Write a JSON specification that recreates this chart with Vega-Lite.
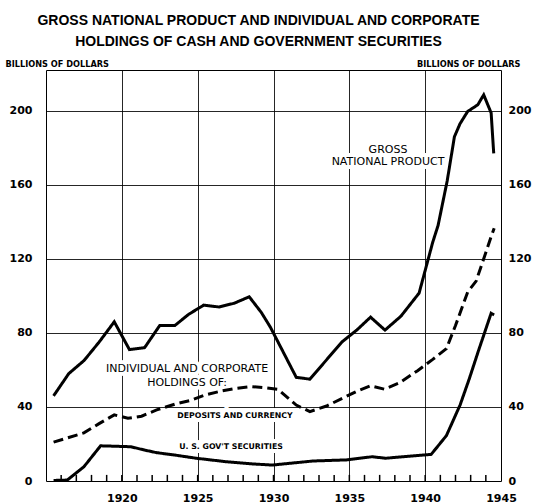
{
  "$schema": "https://vega.github.io/schema/vega-lite/v6.json",
  "width": 455,
  "height": 411,
  "autosize": {"type": "none"},
  "padding": {"left": 46, "top": 70, "right": 33, "bottom": 23},
  "background": "white",
  "title": {
    "text": ["GROSS NATIONAL PRODUCT AND INDIVIDUAL AND CORPORATE", "HOLDINGS OF CASH AND GOVERNMENT SECURITIES"],
    "font": "Liberation Sans",
    "fontSize": 14,
    "fontWeight": "bold",
    "color": "black",
    "anchor": "middle",
    "frame": "group",
    "dx": -15,
    "lineHeight": 21,
    "offset": 10.5
  },
  "config": {
    "view": {"stroke": "black", "strokeWidth": 1},
    "axis": {
      "domainColor": "black",
      "domainWidth": 1,
      "labelColor": "black",
      "labelFont": "DejaVu Sans",
      "labelFontWeight": "bold",
      "labelFontSize": 11,
      "titleFont": "DejaVu Sans",
      "titleFontWeight": "bold",
      "titleFontSize": 8.2,
      "titleColor": "black"
    }
  },
  "datasets": {
    "lines": [
      {"series": "gnp", "year": 1915.5, "value": 46},
      {"series": "gnp", "year": 1916.5, "value": 58},
      {"series": "gnp", "year": 1917.5, "value": 65},
      {"series": "gnp", "year": 1918.5, "value": 75},
      {"series": "gnp", "year": 1919.5, "value": 86},
      {"series": "gnp", "year": 1920.5, "value": 71},
      {"series": "gnp", "year": 1921.5, "value": 72},
      {"series": "gnp", "year": 1922.5, "value": 84},
      {"series": "gnp", "year": 1923.5, "value": 84},
      {"series": "gnp", "year": 1924.4, "value": 90},
      {"series": "gnp", "year": 1925.4, "value": 95},
      {"series": "gnp", "year": 1926.4, "value": 94},
      {"series": "gnp", "year": 1927.4, "value": 96},
      {"series": "gnp", "year": 1928.4, "value": 99.5},
      {"series": "gnp", "year": 1929.2, "value": 91},
      {"series": "gnp", "year": 1929.8, "value": 83},
      {"series": "gnp", "year": 1931.5, "value": 56},
      {"series": "gnp", "year": 1932.4, "value": 55},
      {"series": "gnp", "year": 1934.5, "value": 75},
      {"series": "gnp", "year": 1935.5, "value": 81.6},
      {"series": "gnp", "year": 1936.4, "value": 88.5},
      {"series": "gnp", "year": 1937.35, "value": 81.5},
      {"series": "gnp", "year": 1938.4, "value": 89},
      {"series": "gnp", "year": 1939.6, "value": 101.5},
      {"series": "gnp", "year": 1940.5, "value": 129},
      {"series": "gnp", "year": 1940.85, "value": 138},
      {"series": "gnp", "year": 1941.45, "value": 162},
      {"series": "gnp", "year": 1941.93, "value": 186},
      {"series": "gnp", "year": 1942.3, "value": 193},
      {"series": "gnp", "year": 1942.8, "value": 199.6},
      {"series": "gnp", "year": 1943.47, "value": 203.2},
      {"series": "gnp", "year": 1943.86, "value": 208.6},
      {"series": "gnp", "year": 1944.35, "value": 198.8},
      {"series": "gnp", "year": 1944.52, "value": 177},
      {"series": "deposits", "year": 1915.5, "value": 21},
      {"series": "deposits", "year": 1916.5, "value": 23.5},
      {"series": "deposits", "year": 1917.5, "value": 26},
      {"series": "deposits", "year": 1918.5, "value": 31},
      {"series": "deposits", "year": 1919.5, "value": 35.7},
      {"series": "deposits", "year": 1920.4, "value": 33.9},
      {"series": "deposits", "year": 1921.3, "value": 35},
      {"series": "deposits", "year": 1922.3, "value": 38.4},
      {"series": "deposits", "year": 1923.5, "value": 41.5},
      {"series": "deposits", "year": 1924.5, "value": 43.5},
      {"series": "deposits", "year": 1925.5, "value": 46.5},
      {"series": "deposits", "year": 1926.5, "value": 48.5},
      {"series": "deposits", "year": 1927.5, "value": 50},
      {"series": "deposits", "year": 1928.5, "value": 51},
      {"series": "deposits", "year": 1929.5, "value": 50.3},
      {"series": "deposits", "year": 1930.3, "value": 49.5},
      {"series": "deposits", "year": 1931.5, "value": 41},
      {"series": "deposits", "year": 1932.4, "value": 37.5},
      {"series": "deposits", "year": 1933.5, "value": 40.5},
      {"series": "deposits", "year": 1934.5, "value": 44.5},
      {"series": "deposits", "year": 1935.5, "value": 48.5},
      {"series": "deposits", "year": 1936.4, "value": 51.4},
      {"series": "deposits", "year": 1937.3, "value": 49.6},
      {"series": "deposits", "year": 1938.3, "value": 53},
      {"series": "deposits", "year": 1939.5, "value": 59.6},
      {"series": "deposits", "year": 1940.5, "value": 65.7},
      {"series": "deposits", "year": 1941.4, "value": 71.5},
      {"series": "deposits", "year": 1942.0, "value": 84},
      {"series": "deposits", "year": 1942.8, "value": 102},
      {"series": "deposits", "year": 1943.36, "value": 108},
      {"series": "deposits", "year": 1943.9, "value": 121},
      {"series": "deposits", "year": 1944.35, "value": 132},
      {"series": "deposits", "year": 1944.55, "value": 136.5},
      {"series": "securities", "year": 1915.5, "value": 0.3},
      {"series": "securities", "year": 1916.4, "value": 0.5},
      {"series": "securities", "year": 1917.5, "value": 7.7},
      {"series": "securities", "year": 1918.6, "value": 19},
      {"series": "securities", "year": 1919.5, "value": 18.8},
      {"series": "securities", "year": 1920.6, "value": 18.5},
      {"series": "securities", "year": 1921.5, "value": 16.7},
      {"series": "securities", "year": 1922.3, "value": 15.3},
      {"series": "securities", "year": 1923.5, "value": 14},
      {"series": "securities", "year": 1924.9, "value": 12.3},
      {"series": "securities", "year": 1926.9, "value": 10.4},
      {"series": "securities", "year": 1928.5, "value": 9.3},
      {"series": "securities", "year": 1929.9, "value": 8.6},
      {"series": "securities", "year": 1931.5, "value": 9.9},
      {"series": "securities", "year": 1932.6, "value": 10.8},
      {"series": "securities", "year": 1934.8, "value": 11.4},
      {"series": "securities", "year": 1936.5, "value": 13.1},
      {"series": "securities", "year": 1937.4, "value": 12.3},
      {"series": "securities", "year": 1940.4, "value": 14.4},
      {"series": "securities", "year": 1941.4, "value": 24.5},
      {"series": "securities", "year": 1942.3, "value": 41},
      {"series": "securities", "year": 1942.9, "value": 55},
      {"series": "securities", "year": 1943.5, "value": 70},
      {"series": "securities", "year": 1944.35, "value": 90.6},
      {"series": "securities", "year": 1944.55, "value": 89.7}
    ],
    "bigLabels": [
      {"label": "GROSS", "year": 1937.55, "value": 178.8},
      {"label": "NATIONAL PRODUCT", "year": 1937.55, "value": 172.5},
      {"label": "INDIVIDUAL AND CORPORATE", "year": 1924.3, "value": 60.5},
      {"label": "HOLDINGS OF:", "year": 1924.3, "value": 53.1}
    ],
    "smallLabels": [
      {"label": "DEPOSITS AND CURRENCY", "year": 1927.46, "value": 35.3},
      {"label": "U. S. GOV'T SECURITIES", "year": 1927.2, "value": 18.5}
    ],
    "yearTicks": [
      {"year": 1916}, {"year": 1917}, {"year": 1918}, {"year": 1919}, {"year": 1920},
      {"year": 1921}, {"year": 1922}, {"year": 1923}, {"year": 1924}, {"year": 1925},
      {"year": 1926}, {"year": 1927}, {"year": 1928}, {"year": 1929}, {"year": 1930},
      {"year": 1931}, {"year": 1932}, {"year": 1933}, {"year": 1934}, {"year": 1935},
      {"year": 1936}, {"year": 1937}, {"year": 1938}, {"year": 1939}, {"year": 1940},
      {"year": 1941}, {"year": 1942}, {"year": 1943}, {"year": 1944}
    ],
    "valueTicks": [
      {"value": 20}, {"value": 60}, {"value": 100}, {"value": 140}, {"value": 180}
    ]
  },
  "encoding": {
    "x": {
      "field": "year",
      "type": "quantitative",
      "scale": {"domain": [1915, 1945], "nice": false, "zero": false},
      "axis": {
        "title": null,
        "values": [1920, 1925, 1930, 1935, 1940, 1945],
        "format": "d",
        "labelDx": -6,
        "labelPadding": 11,
        "labelOverlap": false,
        "labelBound": false,
        "labelFlush": false,
        "domain": false,
        "ticks": false,
        "grid": true,
        "gridColor": "black",
        "gridWidth": 1,
        "gridOpacity": {"condition": {"test": "datum.value < 1945", "value": 0.85}, "value": 0}
      }
    }
  },
  "layer": [
    {
      "data": {"name": "bigLabels"},
      "mark": {"type": "text", "font": "DejaVu Sans", "fontSize": 11, "stroke": "white", "strokeWidth": 8, "fill": "white", "baseline": "middle"},
      "encoding": {
        "y": {"field": "value", "type": "quantitative", "axis": null},
        "text": {"field": "label"}
      }
    },
    {
      "data": {"name": "smallLabels"},
      "mark": {"type": "text", "font": "DejaVu Sans", "fontWeight": "bold", "fontSize": 7.8, "stroke": "white", "strokeWidth": 8, "fill": "white", "baseline": "middle"},
      "encoding": {
        "y": {"field": "value", "type": "quantitative", "axis": null},
        "text": {"field": "label"}
      }
    },
    {
      "data": {"name": "yearTicks"},
      "mark": {"type": "rule", "color": "black", "strokeWidth": 1.5},
      "encoding": {
        "y": {"datum": 0, "type": "quantitative", "axis": null},
        "y2": {"datum": 3.3}
      }
    },
    {
      "data": {"name": "valueTicks"},
      "mark": {"type": "rule", "color": "black", "strokeWidth": 1.5},
      "encoding": {
        "x": {"datum": 1915, "type": "quantitative"},
        "x2": {"datum": 1915.4},
        "y": {"field": "value", "type": "quantitative", "axis": null}
      }
    },
    {
      "data": {"name": "valueTicks"},
      "mark": {"type": "rule", "color": "black", "strokeWidth": 1.5},
      "encoding": {
        "x": {"datum": 1944.6, "type": "quantitative"},
        "x2": {"datum": 1945},
        "y": {"field": "value", "type": "quantitative", "axis": null}
      }
    },
    {
      "data": {"name": "lines"},
      "mark": {"type": "line", "color": "black", "strokeWidth": 3, "strokeCap": "butt", "strokeJoin": "miter"},
      "encoding": {
        "y": {
          "field": "value",
          "type": "quantitative",
          "scale": {"domain": [0, 222], "nice": false, "zero": true},
          "axis": {
            "orient": "left",
            "title": "BILLIONS OF DOLLARS",
            "titleAngle": 0,
            "titleX": -41,
            "titleY": -3.5,
            "titleAlign": "left",
            "titleBaseline": "alphabetic",
            "values": [0, 40, 80, 120, 160, 200],
            "labelPadding": 14,
            "domain": false,
            "ticks": false,
            "grid": true,
            "gridColor": "black",
            "gridWidth": 1,
            "gridOpacity": {"condition": {"test": "datum.value > 0", "value": 0.85}, "value": 0}
          }
        },
        "detail": {"field": "series"},
        "strokeDash": {
          "field": "series",
          "type": "nominal",
          "scale": {"domain": ["gnp", "deposits", "securities"], "range": [[1, 0], [10, 5], [1, 0]]},
          "legend": null
        }
      }
    },
    {
      "data": {"name": "bigLabels"},
      "mark": {"type": "text", "font": "DejaVu Sans", "fontSize": 11, "color": "black", "baseline": "middle"},
      "encoding": {
        "y": {"field": "value", "type": "quantitative", "axis": null},
        "text": {"field": "label"}
      }
    },
    {
      "data": {"name": "smallLabels"},
      "mark": {"type": "text", "font": "DejaVu Sans", "fontWeight": "bold", "fontSize": 7.8, "color": "black", "baseline": "middle"},
      "encoding": {
        "y": {
          "field": "value",
          "type": "quantitative",
          "axis": {
            "orient": "right",
            "title": "BILLIONS OF DOLLARS",
            "titleAngle": 0,
            "titleX": 19,
            "titleY": -3.5,
            "titleAlign": "right",
            "titleBaseline": "alphabetic",
            "values": [0, 40, 80, 120, 160, 200],
            "labelPadding": 7,
            "domain": false,
            "ticks": false,
            "grid": false
          }
        },
        "text": {"field": "label"}
      }
    }
  ],
  "resolve": {"axis": {"y": "independent"}}
}
